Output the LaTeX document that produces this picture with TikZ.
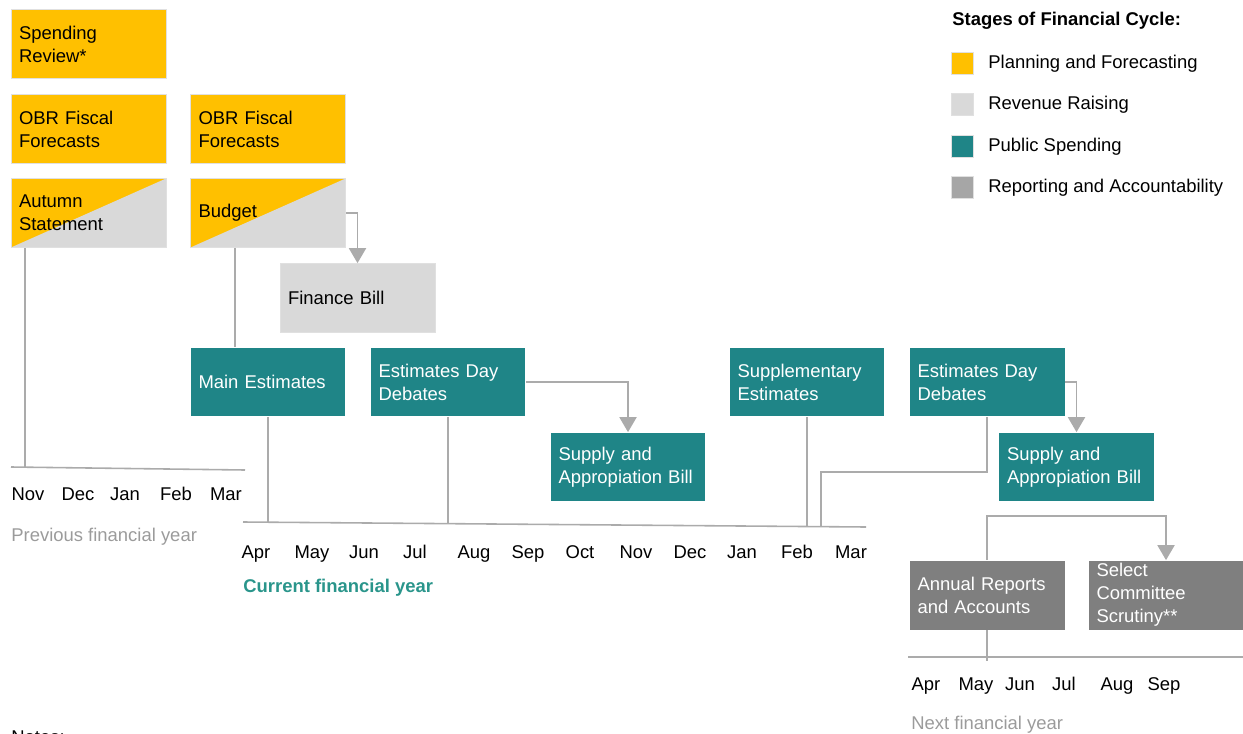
\documentclass[tikz,border=0pt]{standalone}
\usepackage{fontspec}
\setmainfont{Liberation Sans}
\usepackage{xcolor}
\usetikzlibrary{arrows.meta, positioning, calc}
\definecolor{planyel}{HTML}{FFC000}
\definecolor{revgrey}{HTML}{D9D9D9}
\definecolor{spteal}{HTML}{1F8587}
\definecolor{repgrey}{HTML}{7F7F7F}
\definecolor{leggrey}{HTML}{A6A6A6}
\definecolor{linegrey}{HTML}{ABABAB}
\definecolor{yeargrey}{HTML}{9B9B9B}
\definecolor{curteal}{HTML}{2A958B}
\newcommand{\boxfont}{\fontsize{10.5pt}{13pt}\selectfont}

\begin{document}
\begin{tikzpicture}[x=0.02cm, y=-0.02cm,
      stage/.style  = {minimum width=3.1cm, minimum height=1.38cm,
                       text width=2.78cm, inner xsep=0.16cm, inner ysep=0.05cm,
                       align=left, font=\boxfont},
      plan/.style   = {stage, fill=planyel, draw=black!12},
      revenue/.style= {stage, fill=revgrey, draw=black!12},
      split/.style  = {plan, path picture={\fill[revgrey]
                       (path picture bounding box.north east) --
                       (path picture bounding box.south east) --
                       (path picture bounding box.south west) -- cycle;}},
      spend/.style  = {stage, fill=spteal, text=white},
      report/.style = {stage, fill=repgrey, text=white},
      link/.style   = {draw=linegrey, line width=1.1pt},
      arrow/.style  = {link, -{Triangle[length=0.3cm, width=0.34cm]}},
      month/.style  = {anchor=base, inner sep=0, font=\boxfont},
      yearlbl/.style= {anchor=base west, inner sep=0, font=\boxfont},
      legbox/.style = {minimum size=0.44cm, inner sep=0, draw=black!12},
      legtext/.style= {anchor=base west, inner sep=0, font=\boxfont}
    ]
    \useasboundingbox (0,0) rectangle (1243,733);

    % planning and budget boxes
    \node[plan]    (review)  at (88.5,44)   {Spending\\Review*};
    \node[plan]    (obrA)    at (88.5,129)  {OBR Fiscal\\Forecasts};
    \node[plan]    (obrB)    at (268,129)   {OBR Fiscal\\Forecasts};
    \node[split]   (autumn)  at (88.5,213)  {Autumn\\Statement};
    \node[split]   (budget)  at (268,213)   {Budget};
    \node[revenue] (finance) at (357.5,298) {Finance Bill};

    % spending boxes
    \node[spend]   (mainest) at (268,382)   {Main Estimates};
    \node[spend]   (eddA)    at (448,382)   {Estimates Day\\Debates};
    \node[spend]   (sabA)    at (628,467)   {Supply and\\Appropiation Bill};
    \node[spend]   (suppest) at (807,382)   {Supplementary\\Estimates};
    \node[spend]   (eddB)    at (987,382)   {Estimates Day\\Debates};
    \node[spend]   (sabB)    at (1076.5,467){Supply and\\Appropiation Bill};

    % reporting boxes
    \node[report]  (annual)  at (987,595)   {Annual Reports\\and Accounts};
    \node[report]  (select)  at (1166,595)  {Select\\Committee\\Scrutiny**};

    % time lines
    \coordinate (prevL) at (11,467);
    \coordinate (prevR) at (245,470);
    \coordinate (curL)  at (243,522);
    \coordinate (curR)  at (866,527);
    \coordinate (nextL) at (908,657);
    \coordinate (nextR) at (1243,657);
    \coordinate (tAut)  at (25,467);
    \coordinate (tMain) at (268,523);
    \coordinate (tEddA) at (448,524);
    \coordinate (tSupp) at (807,526);
    \coordinate (tEddB) at (821,526);
    \draw[link, line width=0.9pt] (prevL) -- (prevR);
    \draw[link, line width=0.9pt] (curL) -- (curR);
    \draw[link, line width=0.9pt] (nextL) -- (nextR);

    \foreach \m/\x in {Nov/28, Dec/78, Jan/125, Feb/176, Mar/226}
      \node[month] (p\m) at (\x,500) {\m};
    \foreach \m/\x in {Apr/256, May/312, Jun/364, Jul/415, Aug/474, Sep/528,
                       Oct/580, Nov/636, Dec/690, Jan/742, Feb/797, Mar/851}
      \node[month] (c\m) at (\x,558) {\m};
    \foreach \m/\x in {Apr/926, May/976, Jun/1020, Jul/1064, Aug/1117, Sep/1164}
      \node[month] (n\m) at (\x,690) {\m};

    \node[yearlbl, text=yeargrey] (prevyr) at (11,541)  {Previous financial year};
    \node[yearlbl, text=curteal, font=\boxfont\bfseries] (curyr) at (243,592) {Current financial year};
    \node[yearlbl, text=yeargrey] (nextyr) at (911,729) {Next financial year};
    \node[yearlbl] (notes) at (11,743) {Notes:};

    % connectors
    \draw[link]  (autumn.south -| tAut) -- (tAut);
    \draw[link]  ($(budget.south west)+(45,0)$) -- ($(mainest.north west)+(45,0)$);
    \draw[link]  (mainest.south) -- (tMain);
    \draw[link]  (eddA.south) -- (tEddA);
    \draw[link]  (suppest.south) -- (tSupp);
    \draw[link]  (eddB.south) -- ++(0,55) -| (tEddB);
    \draw[link]  (annual.south) -- ++(0,31);
    \draw[arrow] (budget.east) -| (finance.north);
    \draw[arrow] (eddA.east) -| (sabA.north);
    \draw[arrow] (eddB.east) -| (sabB.north);
    \draw[arrow] (annual.north) -- ++(0,-44) -| (select.north);

    % legend
    \node[legtext, font=\boxfont\bfseries] (legtitle) at (952,26) {Stages of Financial Cycle:};
    \foreach \c/\t [count=\i] in {planyel/Planning and Forecasting,
                                  revgrey/Revenue Raising,
                                  spteal/Public Spending,
                                  leggrey/Reporting and Accountability}
    {
      \node[legbox, fill=\c] (k\i) at (962.5,{63+41.5*(\i-1)}) {};
      \node[legtext] (l\i) at (988,{68.3+41.5*(\i-1)}) {\t};
    }
  \end{tikzpicture}
\end{document}
